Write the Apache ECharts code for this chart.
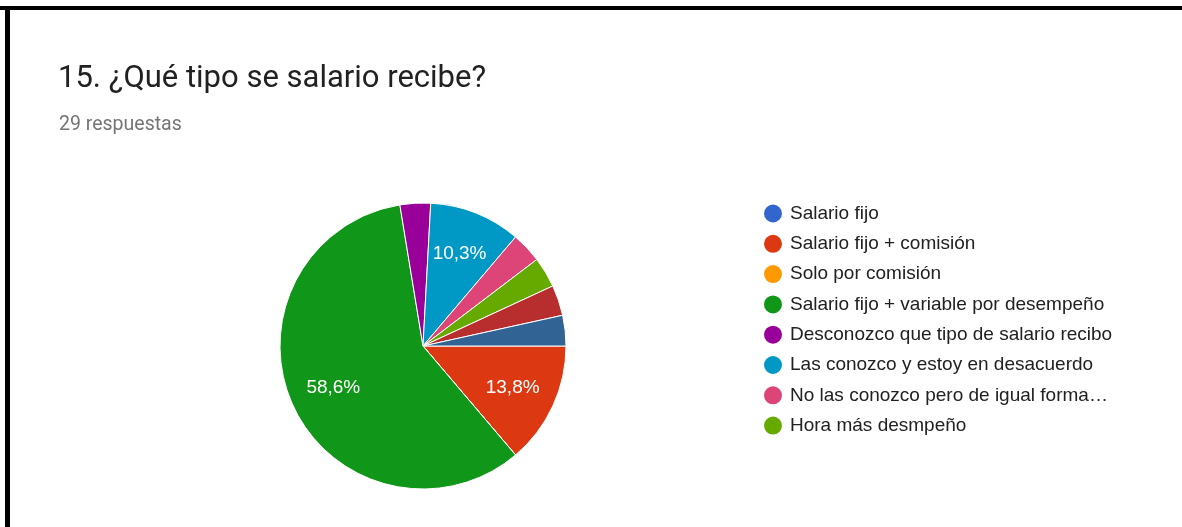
<!DOCTYPE html>
<html>
<head>
<meta charset="utf-8">
<script src="https://cdn.jsdelivr.net/npm/echarts@6/dist/echarts.min.js"></script>
<style>
html,body{margin:0;padding:0;background:#fff;}
#chart{width:1182px;height:527px;}
</style>
</head>
<body>
<div id="chart"></div>
<script>
const titleText = '15. ¿Qué tipo se salario recibe?';
const subtitleText = '29 respuestas';
const categories = [
  'Salario fijo',
  'Salario fijo + comisión',
  'Solo por comisión',
  'Salario fijo + variable por desempeño',
  'Desconozco que tipo de salario recibo',
  'Las conozco y estoy en desacuerdo',
  'No las conozco pero de igual forma…',
  'Hora más desmpeño',
  'Otra respuesta 1',
  'Otra respuesta 2'
];
const values = [0, 4, 0, 17, 1, 3, 1, 1, 1, 1];
const legendNames = categories.slice(0, 8);
const colors = ['#3366cc', '#dc3912', '#ff9900', '#109618', '#990099', '#0099c6', '#dd4477', '#66aa00', '#b82e2e', '#316395'];

const data = categories.map((c, i) => ({ name: c, value: values[i] }));
const chart = echarts.init(document.getElementById('chart'));
const center = [423, 346];
const R = 143;
chart.setOption({
  color: colors,
  animation: false,
  title: [
    { text: titleText, left: 53, top: 59, textStyle: { fontFamily: 'Roboto', fontSize: 31, lineHeight: 31, fontWeight: 'normal', color: '#212121' } },
    { text: subtitleText, left: 54, top: 110, textStyle: { fontFamily: 'Roboto', fontSize: 19.5, lineHeight: 19.5, fontWeight: 'normal', color: '#757575' } }
  ],
  legend: {
    orient: 'vertical',
    left: 762,
    top: 202.5,
    padding: 0,
    data: legendNames,
    icon: 'circle',
    itemWidth: 20,
    itemHeight: 20,
    itemGap: 8.3,
    selectedMode: false,
    textStyle: { fontFamily: 'Liberation Sans, Arial', fontSize: 19, lineHeight: 20, color: '#212121', padding: [0, 0, 0, 2] }
  },
  graphic: [
    { type: 'rect', shape: { x: 0, y: 6, width: 1182, height: 4 }, style: { fill: '#000' } },
    { type: 'rect', shape: { x: 5, y: 6, width: 5, height: 521 }, style: { fill: '#000' } }
  ],
  series: [
    {
      type: 'pie',
      center: center,
      radius: R,
      startAngle: 0,
      clockwise: true,
      data: data,
      label: { show: false },
      labelLine: { show: false },
      itemStyle: { borderColor: '#fff', borderWidth: 1 },
      emphasis: { disabled: true }
    },
    {
      type: 'pie',
      center: center,
      radius: [R * 0.34, R],
      startAngle: 0,
      clockwise: true,
      silent: true,
      data: data,
      itemStyle: { color: 'rgba(0,0,0,0)', borderWidth: 0 },
      label: {
        show: true,
        position: 'inside',
        color: '#fff',
        fontFamily: 'Liberation Sans, Arial',
        fontSize: 19,
        formatter: p => p.percent < 5 ? '' : p.percent.toFixed(1).replace('.', ',') + '%'
      },
      labelLine: { show: false },
      emphasis: { disabled: true }
    }
  ]
});
</script>
</body>
</html>
